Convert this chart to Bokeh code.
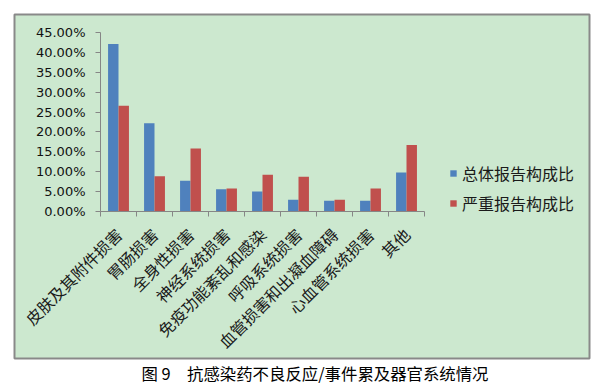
from bokeh.plotting import figure
from bokeh.models import (LinearAxis, FixedTicker, PrintfTickFormatter, Range1d,
                          Legend, LegendItem, Title, ColumnDataSource)
from bokeh.embed import file_html
from bokeh.resources import INLINE
import math

# ---- data ----
categories = ["皮肤及其附件损害", "胃肠损害", "全身性损害", "神经系统损害",
              "免疫功能紊乱和感染", "呼吸系统损害", "血管损害和出凝血障碍",
              "心血管系统损害", "其他"]
total_share = [42.2, 22.2, 7.66, 5.55, 4.96, 2.86, 2.61, 2.61, 9.76]
severe_share = [26.6, 8.83, 15.8, 5.72, 9.2, 8.66, 2.86, 5.72, 16.7]
y_ticks = [0, 5, 10, 15, 20, 25, 30, 35, 40, 45]
series_names = ["总体报告构成比", "严重报告构成比"]
caption = "图 9\u3000抗感染药不良反应/事件累及器官系统情况"

CJK = "Noto Sans CJK SC"
BLUE = "#4F81BD"
RED = "#C0504D"
BG = "#CCE8CF"
AXIS = "#868686"

n = len(categories)
centers = [i + 0.5 for i in range(n)]
bw = 0.29
src = ColumnDataSource(dict(
    xb=[c - bw / 2 for c in centers],
    xr=[c + bw / 2 for c in centers],
    total=total_share,
    severe=severe_share,
))

p = figure(frame_width=575, frame_height=344,
           x_range=Range1d(-2.389, 13.583), y_range=Range1d(-37.18, 49.63),
           x_axis_location=None, y_axis_location=None,
           toolbar_location=None, output_backend="svg", title=None,
           min_border_left=14, min_border_right=22, min_border_top=14,
           min_border_bottom=0)
p.background_fill_color = BG
p.border_fill_color = "white"
p.outline_line_color = "#898989"
p.outline_line_width = 2
p.grid.visible = False

rb = p.vbar(x="xb", top="total", width=bw, bottom=0, source=src,
            fill_color=BLUE, line_color=None)
rr = p.vbar(x="xr", top="severe", width=bw, bottom=0, source=src,
            fill_color=RED, line_color=None)

# y axis
yax = LinearAxis(fixed_location=0, bounds=(0, 45),
                 ticker=FixedTicker(ticks=y_ticks),
                 formatter=PrintfTickFormatter(format="%.2f%%"))
yax.axis_line_color = AXIS
yax.major_tick_line_color = AXIS
yax.major_tick_out = 5
yax.major_tick_in = 0
yax.minor_tick_line_color = None
yax.major_label_standoff = 10
yax.major_label_text_font = "DejaVu Sans"
yax.major_label_text_font_size = "13px"
yax.major_label_text_color = "#111111"
p.add_layout(yax, "left")

# x axis
xax = LinearAxis(fixed_location=0, bounds=(0, n),
                 ticker=FixedTicker(ticks=centers, minor_ticks=list(range(n + 1))))
xax.major_label_overrides = {c: lab for c, lab in zip(centers, categories)}
xax.axis_line_color = AXIS
xax.major_tick_line_color = None
xax.major_tick_out = 0
xax.major_tick_in = 0
xax.minor_tick_line_color = AXIS
xax.minor_tick_out = 5
xax.minor_tick_in = 0
xax.major_label_orientation = math.pi / 4
xax.major_label_standoff = 15
xax.major_label_text_font = CJK
xax.major_label_text_font_size = "16px"
xax.major_label_text_color = "#1a1a1a"
p.add_layout(xax, "below")

legend = Legend(items=[LegendItem(label=series_names[0], renderers=[rb]),
                       LegendItem(label=series_names[1], renderers=[rr])],
                location=(435, 143.5), orientation="vertical")
legend.glyph_width = 8
legend.glyph_height = 8
legend.label_standoff = 5
legend.label_height = 20
legend.spacing = 6
legend.padding = 0
legend.margin = 0
legend.border_line_color = None
legend.background_fill_alpha = 0
legend.label_text_font = CJK
legend.label_text_font_size = "16px"
legend.label_text_color = "#1a1a1a"
p.add_layout(legend)

cap = Title(text=caption, align="left", offset=127, standoff=0,
            text_font=CJK, text_font_size="16.4px", text_font_style="normal",
            text_color="#000000")
p.add_layout(cap, "below")

open("out.html", "w").write(file_html(p, INLINE))
